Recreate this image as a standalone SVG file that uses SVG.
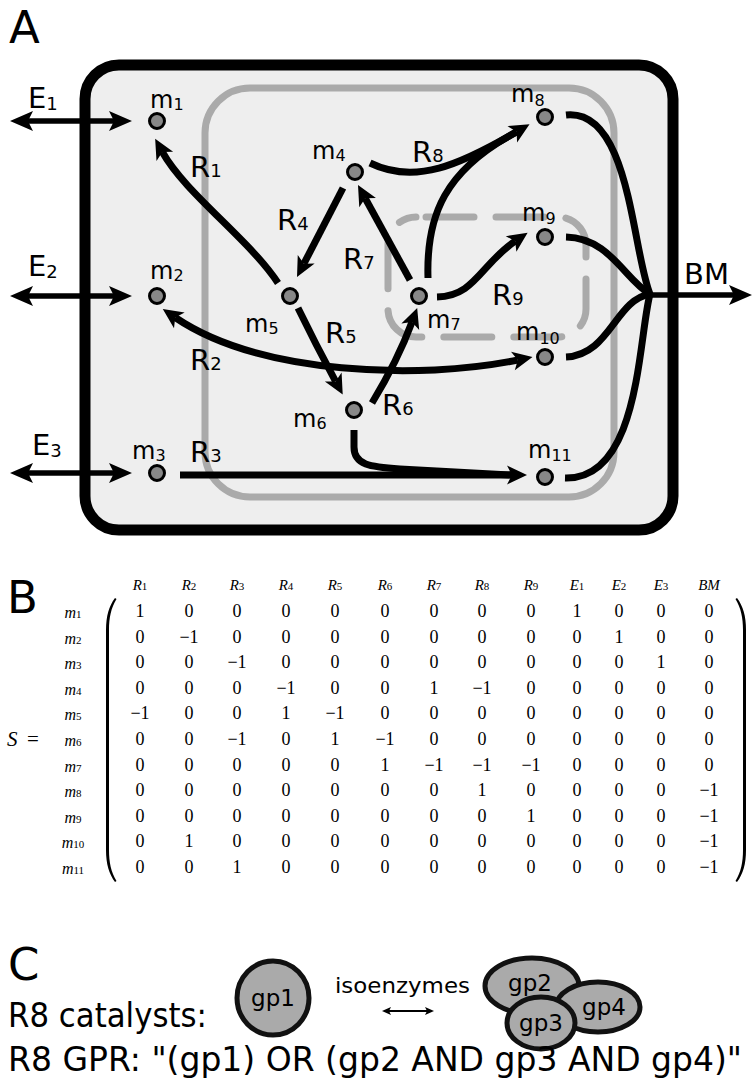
<svg xmlns="http://www.w3.org/2000/svg" width="752" height="1087" viewBox="0 0 752 1087">
<style>
.lbl{font-family:"DejaVu Sans",sans-serif;font-size:29px;fill:#000}
.sub{font-size:18px}
.mlbl{font-family:"DejaVu Sans",sans-serif;font-size:24px;fill:#000}
.msub{font-size:16px}
.big{font-family:"DejaVu Sans",sans-serif;font-size:45px;fill:#000}
.node{fill:#888;stroke:#000;stroke-width:3}
.rxn{fill:none;stroke:#000;stroke-width:7}
.ex{fill:none;stroke:#000;stroke-width:5.5}
.mat{font-family:"Liberation Serif",serif;font-size:18px;fill:#000;text-anchor:middle}
.hdr{font-family:"Liberation Serif",serif;font-size:15px;font-style:italic;fill:#000;text-anchor:middle}
.hs{font-size:11px;font-style:normal}
.row{font-family:"Liberation Serif",serif;font-size:16px;font-style:italic;fill:#000;text-anchor:middle}
.rs{font-size:11px;font-style:normal}
.gp{fill:#aaa;stroke:#111;stroke-width:5}
.gpt{font-family:"DejaVu Sans",sans-serif;font-size:23px;fill:#000;text-anchor:middle}
.ctext{font-family:"DejaVu Sans",sans-serif;font-size:33px;fill:#000}
</style>
<defs>
<marker id="ah" markerUnits="userSpaceOnUse" viewBox="-2 -12 26 24" markerWidth="26" markerHeight="24" refX="5" refY="0" orient="auto-start-reverse">
<path d="M0,-9.5 L20,0 L0,9.5 L5,0 Z" fill="#000"/>
</marker>
<marker id="ahe" markerUnits="userSpaceOnUse" viewBox="-2 -12 28 24" markerWidth="28" markerHeight="24" refX="5" refY="0" orient="auto-start-reverse">
<path d="M0,-10 L23,0 L0,10 L5,0 Z" fill="#000"/>
</marker>
<marker id="ahs" markerUnits="userSpaceOnUse" viewBox="-1 -6 12 12" markerWidth="12" markerHeight="12" refX="2" refY="0" orient="auto-start-reverse">
<path d="M0,-4 L9,0 L0,4 L2,0 Z" fill="#000"/>
</marker>
</defs>
<rect width="752" height="1087" fill="#fff"/>

<!-- Panel A -->
<text class="big" x="9" y="43">A</text>
<g id="cell">
<rect x="85" y="65" width="588" height="465" rx="34" fill="#eeeeee" stroke="#000" stroke-width="11"/>
<rect x="205" y="88" width="409" height="409" rx="45" fill="none" stroke="#aaaaaa" stroke-width="7"/>
<rect x="388" y="217" width="198" height="120" rx="28" fill="none" stroke="#aaaaaa" stroke-width="7" stroke-dasharray="48 22" stroke-dashoffset="-10" stroke-linecap="round"/>
</g>

<g id="connectors">
<!-- exchange -->
<line class="ex" x1="28" y1="121" x2="114" y2="121" marker-start="url(#ahe)" marker-end="url(#ahe)"/>
<line class="ex" x1="28" y1="296" x2="114" y2="296" marker-start="url(#ahe)" marker-end="url(#ahe)"/>
<line class="ex" x1="28" y1="473" x2="114" y2="473" marker-start="url(#ahe)" marker-end="url(#ahe)"/>
<!-- biomass -->
<path class="rxn" d="M566,115 C630,108 632,250 650,294"/>
<path class="rxn" d="M566,237 C610,238 625,280 650,294"/>
<path class="rxn" d="M566,357 C610,355 615,300 650,294"/>
<path class="rxn" d="M565,478 C640,480 638,340 650,294"/>
<line class="ex" x1="645" y1="295" x2="734" y2="295" stroke-width="6" marker-end="url(#ahe)"/>
<!-- reactions -->
<path class="rxn" d="M278,283 C250,240 185,193 162.4,152" marker-end="url(#ah)"/>
<path class="rxn" d="M175.2,317.5 C260,375 420,380 517.8,360" marker-start="url(#ah)" marker-end="url(#ah)"/>
<path class="rxn" d="M180,475 L512,475" marker-end="url(#ah)"/>
<path class="rxn" d="M354,430 L354,447 C354,465 370,467 400,469 C440,471 470,473 512,475"/>
<path class="rxn" d="M343,188 L303.9,263.7" marker-end="url(#ah)"/>
<path class="rxn" d="M298,308 Q316,345 335.6,381.4" marker-end="url(#ah)"/>
<path class="rxn" d="M372,403 Q398,360 412,322" marker-end="url(#ah)"/>
<path class="rxn" d="M410,280 L365.2,198.2" marker-end="url(#ah)"/>
<path class="rxn" d="M428,278 C426,215 445,170 516.6,131.8"/>
<path class="rxn" d="M370,163 C415,185 460,165 516.6,131.8" marker-end="url(#ah)"/>
<path class="rxn" d="M437,297 C475,296 480,265 515.2,241.2" marker-end="url(#ah)"/>
</g>

<g id="node-m1"><circle class="node" cx="157" cy="121" r="7.5"/><text class="mlbl" x="150" y="108">m<tspan class="msub" dy="2">1</tspan></text></g>
<g id="node-m2"><circle class="node" cx="157" cy="296" r="7.5"/><text class="mlbl" x="150" y="279">m<tspan class="msub" dy="2">2</tspan></text></g>
<g id="node-m3"><circle class="node" cx="157" cy="473" r="7.5"/><text class="mlbl" x="132" y="459">m<tspan class="msub" dy="2">3</tspan></text></g>
<g id="node-m4"><circle class="node" cx="355" cy="172" r="7.5"/><text class="mlbl" x="312" y="159">m<tspan class="msub" dy="2">4</tspan></text></g>
<g id="node-m5"><circle class="node" cx="290" cy="296" r="7.5"/><text class="mlbl" x="245" y="332">m<tspan class="msub" dy="2">5</tspan></text></g>
<g id="node-m6"><circle class="node" cx="354" cy="410" r="7.5"/><text class="mlbl" x="293" y="427">m<tspan class="msub" dy="2">6</tspan></text></g>
<g id="node-m7"><circle class="node" cx="419" cy="296" r="7.5"/><text class="mlbl" x="427" y="328">m<tspan class="msub" dy="2">7</tspan></text></g>
<g id="node-m8"><circle class="node" cx="545" cy="117" r="7.5"/><text class="mlbl" x="511" y="102">m<tspan class="msub" dy="4">8</tspan></text></g>
<g id="node-m9"><circle class="node" cx="545" cy="237" r="7.5"/><text class="mlbl" x="522" y="221">m<tspan class="msub" dy="3">9</tspan></text></g>
<g id="node-m10"><circle class="node" cx="545" cy="357" r="7.5"/><text class="mlbl" x="516" y="340">m<tspan class="msub" dy="4">10</tspan></text></g>
<g id="node-m11"><circle class="node" cx="545" cy="477" r="7.5"/><text class="mlbl" x="528" y="458">m<tspan class="msub" dy="3">11</tspan></text></g>

<g id="labels">
<text class="lbl" x="28" y="108">E<tspan class="sub" dy="2">1</tspan></text>
<text class="lbl" x="28" y="276">E<tspan class="sub" dy="2">2</tspan></text>
<text class="lbl" x="32" y="455">E<tspan class="sub" dy="2">3</tspan></text>
<text class="lbl" x="684" y="284">BM</text>
<text class="lbl" x="190" y="177">R<tspan class="sub">1</tspan></text>
<text class="lbl" x="190" y="370">R<tspan class="sub">2</tspan></text>
<text class="lbl" x="190" y="462">R<tspan class="sub">3</tspan></text>
<text class="lbl" x="277" y="230">R<tspan class="sub">4</tspan></text>
<text class="lbl" x="325" y="343">R<tspan class="sub">5</tspan></text>
<text class="lbl" x="382" y="415">R<tspan class="sub">6</tspan></text>
<text class="lbl" x="343" y="269">R<tspan class="sub">7</tspan></text>
<text class="lbl" x="412" y="162">R<tspan class="sub">8</tspan></text>
<text class="lbl" x="492" y="305">R<tspan class="sub">9</tspan></text>
</g>

<!-- Panel B -->
<text class="big" x="7" y="613" font-size="43">B</text>
<g id="matrix">
<text class="hdr" y="590"><tspan x="140">R<tspan class="hs">1</tspan></tspan><tspan x="189">R<tspan class="hs">2</tspan></tspan><tspan x="237">R<tspan class="hs">3</tspan></tspan><tspan x="286">R<tspan class="hs">4</tspan></tspan><tspan x="335">R<tspan class="hs">5</tspan></tspan><tspan x="385">R<tspan class="hs">6</tspan></tspan><tspan x="434">R<tspan class="hs">7</tspan></tspan><tspan x="482">R<tspan class="hs">8</tspan></tspan><tspan x="531">R<tspan class="hs">9</tspan></tspan><tspan x="577">E<tspan class="hs">1</tspan></tspan><tspan x="619">E<tspan class="hs">2</tspan></tspan><tspan x="661">E<tspan class="hs">3</tspan></tspan><tspan x="709">BM</tspan></text>

<text class="row" y="618"><tspan x="73">m<tspan class="rs">1</tspan></tspan></text>
<text class="row" y="643.6"><tspan x="73">m<tspan class="rs">2</tspan></tspan></text>
<text class="row" y="669.2"><tspan x="73">m<tspan class="rs">3</tspan></tspan></text>
<text class="row" y="694.8"><tspan x="73">m<tspan class="rs">4</tspan></tspan></text>
<text class="row" y="720.4"><tspan x="73">m<tspan class="rs">5</tspan></tspan></text>
<text class="row" y="746"><tspan x="73">m<tspan class="rs">6</tspan></tspan></text>
<text class="row" y="771.6"><tspan x="73">m<tspan class="rs">7</tspan></tspan></text>
<text class="row" y="797.2"><tspan x="73">m<tspan class="rs">8</tspan></tspan></text>
<text class="row" y="822.8"><tspan x="73">m<tspan class="rs">9</tspan></tspan></text>
<text class="row" y="848.4"><tspan x="73">m<tspan class="rs">10</tspan></tspan></text>
<text class="row" y="874"><tspan x="73">m<tspan class="rs">11</tspan></tspan></text>

<text y="746" font-family="Liberation Serif,serif" font-size="21" fill="#000"><tspan x="7" font-style="italic">S</tspan><tspan x="27">=</tspan></text>

<path d="M115,598 C109,606 106,616 106,630 L106,850 C106,864 109,874 115,882 L116.5,881 C111,872 109,862 109,850 L109,630 C109,618 111,608 116.5,599 Z" fill="#000"/>
<path d="M737,598 C743,606 746,616 746,630 L746,850 C746,864 743,874 737,882 L735.5,881 C741,872 743,862 743,850 L743,630 C743,618 741,608 735.5,599 Z" fill="#000"/>

<text class="mat" y="617"><tspan x="140">1</tspan><tspan x="189">0</tspan><tspan x="237">0</tspan><tspan x="286">0</tspan><tspan x="335">0</tspan><tspan x="385">0</tspan><tspan x="434">0</tspan><tspan x="482">0</tspan><tspan x="531">0</tspan><tspan x="577">1</tspan><tspan x="619">0</tspan><tspan x="661">0</tspan><tspan x="709">0</tspan></text>
<text class="mat" y="642.6"><tspan x="140">0</tspan><tspan x="189">−1</tspan><tspan x="237">0</tspan><tspan x="286">0</tspan><tspan x="335">0</tspan><tspan x="385">0</tspan><tspan x="434">0</tspan><tspan x="482">0</tspan><tspan x="531">0</tspan><tspan x="577">0</tspan><tspan x="619">1</tspan><tspan x="661">0</tspan><tspan x="709">0</tspan></text>
<text class="mat" y="668.2"><tspan x="140">0</tspan><tspan x="189">0</tspan><tspan x="237">−1</tspan><tspan x="286">0</tspan><tspan x="335">0</tspan><tspan x="385">0</tspan><tspan x="434">0</tspan><tspan x="482">0</tspan><tspan x="531">0</tspan><tspan x="577">0</tspan><tspan x="619">0</tspan><tspan x="661">1</tspan><tspan x="709">0</tspan></text>
<text class="mat" y="693.8"><tspan x="140">0</tspan><tspan x="189">0</tspan><tspan x="237">0</tspan><tspan x="286">−1</tspan><tspan x="335">0</tspan><tspan x="385">0</tspan><tspan x="434">1</tspan><tspan x="482">−1</tspan><tspan x="531">0</tspan><tspan x="577">0</tspan><tspan x="619">0</tspan><tspan x="661">0</tspan><tspan x="709">0</tspan></text>
<text class="mat" y="719.4"><tspan x="140">−1</tspan><tspan x="189">0</tspan><tspan x="237">0</tspan><tspan x="286">1</tspan><tspan x="335">−1</tspan><tspan x="385">0</tspan><tspan x="434">0</tspan><tspan x="482">0</tspan><tspan x="531">0</tspan><tspan x="577">0</tspan><tspan x="619">0</tspan><tspan x="661">0</tspan><tspan x="709">0</tspan></text>
<text class="mat" y="745"><tspan x="140">0</tspan><tspan x="189">0</tspan><tspan x="237">−1</tspan><tspan x="286">0</tspan><tspan x="335">1</tspan><tspan x="385">−1</tspan><tspan x="434">0</tspan><tspan x="482">0</tspan><tspan x="531">0</tspan><tspan x="577">0</tspan><tspan x="619">0</tspan><tspan x="661">0</tspan><tspan x="709">0</tspan></text>
<text class="mat" y="770.6"><tspan x="140">0</tspan><tspan x="189">0</tspan><tspan x="237">0</tspan><tspan x="286">0</tspan><tspan x="335">0</tspan><tspan x="385">1</tspan><tspan x="434">−1</tspan><tspan x="482">−1</tspan><tspan x="531">−1</tspan><tspan x="577">0</tspan><tspan x="619">0</tspan><tspan x="661">0</tspan><tspan x="709">0</tspan></text>
<text class="mat" y="796.2"><tspan x="140">0</tspan><tspan x="189">0</tspan><tspan x="237">0</tspan><tspan x="286">0</tspan><tspan x="335">0</tspan><tspan x="385">0</tspan><tspan x="434">0</tspan><tspan x="482">1</tspan><tspan x="531">0</tspan><tspan x="577">0</tspan><tspan x="619">0</tspan><tspan x="661">0</tspan><tspan x="709">−1</tspan></text>
<text class="mat" y="821.8"><tspan x="140">0</tspan><tspan x="189">0</tspan><tspan x="237">0</tspan><tspan x="286">0</tspan><tspan x="335">0</tspan><tspan x="385">0</tspan><tspan x="434">0</tspan><tspan x="482">0</tspan><tspan x="531">1</tspan><tspan x="577">0</tspan><tspan x="619">0</tspan><tspan x="661">0</tspan><tspan x="709">−1</tspan></text>
<text class="mat" y="847.4"><tspan x="140">0</tspan><tspan x="189">1</tspan><tspan x="237">0</tspan><tspan x="286">0</tspan><tspan x="335">0</tspan><tspan x="385">0</tspan><tspan x="434">0</tspan><tspan x="482">0</tspan><tspan x="531">0</tspan><tspan x="577">0</tspan><tspan x="619">0</tspan><tspan x="661">0</tspan><tspan x="709">−1</tspan></text>
<text class="mat" y="873"><tspan x="140">0</tspan><tspan x="189">0</tspan><tspan x="237">1</tspan><tspan x="286">0</tspan><tspan x="335">0</tspan><tspan x="385">0</tspan><tspan x="434">0</tspan><tspan x="482">0</tspan><tspan x="531">0</tspan><tspan x="577">0</tspan><tspan x="619">0</tspan><tspan x="661">0</tspan><tspan x="709">−1</tspan></text>
</g>

<!-- Panel C -->
<text class="big" x="8" y="980">C</text>
<g id="gp1"><ellipse class="gp" cx="273" cy="998" rx="36" ry="37"/><text class="gpt" x="273" y="1006">gp1</text></g>
<text x="335" y="993" font-family="DejaVu Sans,sans-serif" font-size="22" fill="#000" textLength="135" lengthAdjust="spacingAndGlyphs">isoenzymes</text>
<line x1="389" y1="1011" x2="427" y2="1011" stroke="#000" stroke-width="2" marker-start="url(#ahs)" marker-end="url(#ahs)"/>
<g id="gp2"><ellipse class="gp" cx="532" cy="986" rx="47" ry="28"/><text class="gpt" x="530" y="991">gp2</text></g>
<g id="gp4"><ellipse class="gp" cx="598" cy="1007" rx="42" ry="25"/><text class="gpt" x="604" y="1015">gp4</text></g>
<g id="gp3"><ellipse class="gp" cx="541" cy="1023" rx="34" ry="26"/><text class="gpt" x="541" y="1031">gp3</text></g>
<text class="ctext" x="8" y="1027" textLength="199" lengthAdjust="spacingAndGlyphs">R8 catalysts:</text>
<text class="ctext" x="8" y="1071">R8 GPR: "(gp1) OR (gp2 AND gp3 AND gp4)"</text>
</svg>
